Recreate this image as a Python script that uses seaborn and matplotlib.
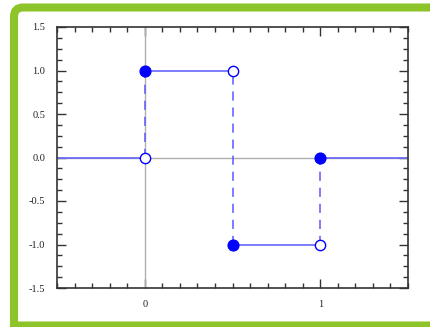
import matplotlib
matplotlib.use("Agg")
import matplotlib.pyplot as plt
import seaborn as sns
import pandas as pd
import numpy as np
from matplotlib.patches import PathPatch
from matplotlib.path import Path
from matplotlib.transforms import IdentityTransform
from matplotlib.ticker import MultipleLocator, FixedLocator

# haar wavelet pieces
seg_x = [[-0.5, 0.0], [0.0, 0.5], [0.5, 1.0], [1.0, 1.5]]
seg_y = [[0, 0], [1, 1], [-1, -1], [0, 0]]

jump_x = [0.0, 0.5, 1.0]
jump_from = [0, 1, -1]
jump_to = [1, -1, 0]

filled_x = [0.0, 0.5, 1.0]
filled_y = [1, -1, 0]
open_x = [0.0, 0.5, 1.0]
open_y = [0, 1, -1]

x_ticks = [0, 1]
x_ticklabels = ["0", "1"]
y_ticks = [-1.5, -1.0, -0.5, 0.0, 0.5, 1.0, 1.5]
y_ticklabels = ["-1.5", "-1.0", "-0.5", "0.0", "0.5", "1.0", "1.5"]

sns.set_style("ticks")
plt.rcParams["font.family"] = ["Liberation Serif", "DejaVu Serif"]
plt.rcParams["axes.unicode_minus"] = False

blue = "#0000ff"
line_blue = "#5a5aff"

fig = plt.figure(figsize=(4.31, 3.27), dpi=100)
ax = fig.add_axes([57 / 431, 1 - 288 / 327, 351 / 431, 261 / 327])

# axis lines through origin
ax.axhline(0, color="#b0b0b0", lw=1.0, zorder=1)
ax.axvline(0, color="#b0b0b0", lw=1.0, zorder=1)

seg_df = pd.DataFrame({
    "x": np.concatenate(seg_x),
    "y": np.concatenate(seg_y),
    "piece": np.repeat(np.arange(len(seg_x)), 2),
})
sns.lineplot(data=seg_df, x="x", y="y", units="piece", estimator=None,
             color=line_blue, lw=1.1, ax=ax, zorder=2)

jump_df = pd.DataFrame({
    "x": np.repeat(jump_x, 2),
    "y": np.ravel(np.column_stack([jump_from, jump_to])),
    "piece": np.repeat(np.arange(len(jump_x)), 2),
})
sns.lineplot(data=jump_df, x="x", y="y", units="piece", estimator=None,
             color=line_blue, lw=1.1, ax=ax, zorder=2)
for ln in ax.lines[-len(jump_x):]:
    ln.set_dashes((6, 4.5))

sns.scatterplot(x=filled_x, y=filled_y, color=blue, s=60, edgecolor=blue,
                linewidth=1.0, ax=ax, zorder=3)
sns.scatterplot(x=open_x, y=open_y, color="white", s=55, edgecolor=blue,
                linewidth=1.0, ax=ax, zorder=3)

ax.set_xlim(-0.5, 1.5)
ax.set_ylim(-1.5, 1.5)
ax.xaxis.set_major_locator(FixedLocator(x_ticks))
ax.set_xticklabels(x_ticklabels)
ax.xaxis.set_minor_locator(MultipleLocator(0.1))
ax.yaxis.set_major_locator(FixedLocator(y_ticks))
ax.set_yticklabels(y_ticklabels)
ax.yaxis.set_minor_locator(MultipleLocator(0.125))
ax.set_xlabel("")
ax.set_ylabel("")

ax.tick_params(which="both", direction="in", top=True, right=True,
               color="#333333", labelsize=7.5, labelcolor="#222222", pad=8.5)
ax.tick_params(which="major", length=6.5, width=1.0)
ax.tick_params(which="minor", length=3.5, width=1.0)
for sp in ax.spines.values():
    sp.set_color("#333333")
    sp.set_linewidth(1.2)
    sp.set_visible(True)

# green frame, cut by the image edge; only the top-left corner is rounded
r = 9
left, bottom, top, right = 14, 1.5, 319.5, 445
verts = [(right, bottom), (left, bottom), (left, top - r), (left, top),
         (left + r, top), (right, top)]
codes = [Path.MOVETO, Path.LINETO, Path.LINETO, Path.CURVE3, Path.CURVE3,
         Path.LINETO]
frame = PathPatch(Path(verts, codes), transform=IdentityTransform(),
                  fill=False, edgecolor="#8cc42a", lw=5.8, zorder=0,
                  joinstyle="miter")
fig.patches.append(frame)

fig.savefig("out.png", dpi=100)
